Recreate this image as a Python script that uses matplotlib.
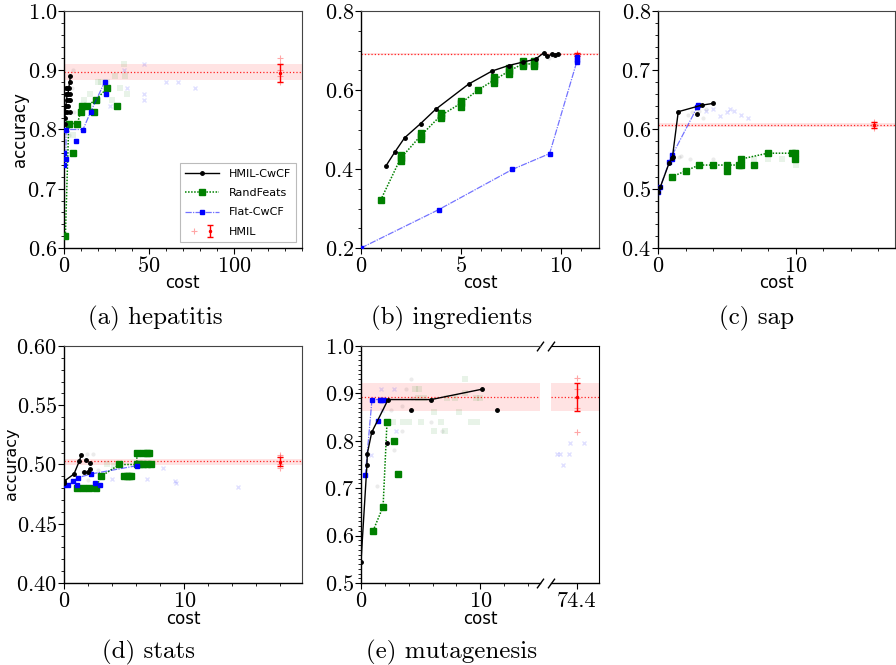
import matplotlib
matplotlib.use("Agg")
import matplotlib.pyplot as plt
from matplotlib.ticker import MultipleLocator
from matplotlib.legend_handler import HandlerTuple

plt.rcParams['font.family'] = 'cmr10'
plt.rcParams['axes.formatter.use_mathtext'] = True
plt.rcParams['mathtext.fontset'] = 'cm'

# ---------------- data ----------------
# (a) hepatitis
hep_cwcf_x = [0.3, 0.5, 0.8, 1.1, 1.5, 1.9, 2.3, 2.8, 3.3, 3.8]
hep_cwcf_y = [0.81, 0.82, 0.83, 0.84, 0.85, 0.86, 0.86, 0.87, 0.88, 0.89]
hep_cwcf_px = [1.5, 3.8, 2.5, 3.5, 1.0, 2.0, 3.5, 0.5, 2.8, 1.2]
hep_cwcf_py = [0.83, 0.83, 0.84, 0.85, 0.86, 0.87, 0.86, 0.84, 0.85, 0.87]
hep_rand_x = [0.8, 2.8, 7.9, 9.8, 10.8, 13.7, 18.6, 25.5]
hep_rand_y = [0.62, 0.81, 0.81, 0.83, 0.84, 0.84, 0.85, 0.87]
hep_rand_px = [5.5, 17.5, 31.4]
hep_rand_py = [0.76, 0.83, 0.84]
hep_flat_x = [0.0, 1.2, 1.2, 11.2, 15.7, 23.9]
hep_flat_y = [0.76, 0.75, 0.80, 0.80, 0.83, 0.88]
hep_flat_px = [0.0, 7.1, 24.7]
hep_flat_py = [0.74, 0.78, 0.86]
hep_bg_cwcf_x = [5.0, 4.5, 6.0, 3.0]
hep_bg_cwcf_y = [0.90, 0.87, 0.83, 0.79]
hep_bg_rand_x = [5.0, 15.0, 20.0, 22.0, 25.0, 30.0, 35.0, 36.0, 33.0, 37.0, 28.0, 20.0, 12.0]
hep_bg_rand_y = [0.79, 0.86, 0.88, 0.88, 0.88, 0.89, 0.91, 0.89, 0.87, 0.86, 0.85, 0.85, 0.85]
hep_bg_flat_x = [47.0, 60.0, 67.0, 77.0, 47.0, 47.0, 37.0, 27.0, 35.0]
hep_bg_flat_y = [0.91, 0.88, 0.88, 0.87, 0.86, 0.85, 0.87, 0.84, 0.90]
hep_hmil = dict(x=127.0, mean=0.897, band=(0.884, 0.911), err=(0.880, 0.911),
                pts=[0.92, 0.91, 0.90, 0.89, 0.88])

# (b) ingredients
ing_cwcf_x = [1.25, 1.68, 2.18, 2.98, 3.73, 5.38, 6.55, 7.38, 8.12, 8.73, 9.13, 9.32, 9.57, 9.70, 9.83]
ing_cwcf_y = [0.408, 0.442, 0.479, 0.515, 0.551, 0.615, 0.648, 0.662, 0.671, 0.678, 0.694, 0.685, 0.692, 0.688, 0.692]
ing_cwcf_px = []
ing_cwcf_py = []
ing_rand_x = [0.98, 1.98, 2.98, 3.98, 4.98, 5.85, 6.65, 7.40, 8.08, 8.65]
ing_rand_y = [0.321, 0.427, 0.484, 0.535, 0.566, 0.600, 0.625, 0.648, 0.666, 0.666]
ing_rand_px = [1.98, 1.98, 2.98, 2.98, 3.98, 3.98, 4.98, 4.98, 6.65, 6.65, 7.40, 7.40, 8.08, 8.08, 8.65, 8.65]
ing_rand_py = [0.420, 0.436, 0.477, 0.492, 0.528, 0.543, 0.558, 0.573, 0.617, 0.632, 0.640, 0.655, 0.660, 0.673, 0.660, 0.673]
ing_flat_x = [0.0, 3.88, 7.57, 9.43, 10.78]
ing_flat_y = [0.20, 0.297, 0.399, 0.439, 0.670]
ing_flat_px = [10.78, 10.78]
ing_flat_py = [0.677, 0.684]
ing_bg_cwcf_x = [9.4, 9.6, 9.5]
ing_bg_cwcf_y = [0.680, 0.685, 0.690]
ing_bg_rand_x = []
ing_bg_rand_y = []
ing_bg_flat_x = []
ing_bg_flat_y = []
ing_hmil = dict(x=10.78, mean=0.691, band=(0.689, 0.693), err=(0.687, 0.694),
                pts=[0.686, 0.689, 0.692, 0.694])

# (c) sap
sap_cwcf_x = [0.0, 0.17, 0.80, 1.04, 1.47, 3.16, 3.99]
sap_cwcf_y = [0.494, 0.503, 0.543, 0.552, 0.630, 0.641, 0.644]
sap_cwcf_px = [2.8, 1.1]
sap_cwcf_py = [0.627, 0.553]
sap_rand_x = [0.99, 2.0, 2.97, 3.99, 5.0, 6.0, 6.0, 7.97, 9.71, 9.97]
sap_rand_y = [0.52, 0.53, 0.54, 0.54, 0.54, 0.54, 0.55, 0.56, 0.56, 0.56]
sap_rand_px = [5.0, 5.85, 6.96, 9.97]
sap_rand_py = [0.53, 0.54, 0.54, 0.55]
sap_flat_x = [0.0, 0.17, 0.80, 1.04, 2.92]
sap_flat_y = [0.494, 0.503, 0.545, 0.557, 0.641]
sap_flat_px = [1.0, 2.85]
sap_flat_py = [0.550, 0.638]
sap_bg_cwcf_x = [2.2, 2.5, 2.8, 3.3, 3.5, 3.0, 1.5, 2.3, 4.0, 1.7]
sap_bg_cwcf_y = [0.625, 0.630, 0.635, 0.620, 0.635, 0.632, 0.553, 0.550, 0.550, 0.555]
sap_bg_rand_x = [7.0, 8.0, 9.0, 10.0]
sap_bg_rand_y = [0.55, 0.55, 0.55, 0.54]
sap_bg_flat_x = [3.5, 4.0, 4.5, 5.0, 5.2, 5.5, 6.0, 6.5]
sap_bg_flat_y = [0.632, 0.635, 0.622, 0.630, 0.635, 0.632, 0.625, 0.620]
sap_hmil = dict(x=15.65, mean=0.608, band=(0.605, 0.611), err=(0.603, 0.612),
                pts=[0.603, 0.606, 0.609, 0.612])

# (d) stats
sta_cwcf_x = [0.03, 0.83, 1.28, 1.44]
sta_cwcf_y = [0.486, 0.492, 0.503, 0.508]
sta_cwcf_px = [0.0, 1.86, 2.17, 1.67, 2.03, 2.17]
sta_cwcf_py = [0.484, 0.504, 0.501, 0.494, 0.494, 0.496]
sta_rand_x = [1.11, 1.61, 2.11, 2.64, 3.08, 4.61, 6.06, 6.06, 6.89]
sta_rand_y = [0.480, 0.480, 0.480, 0.480, 0.490, 0.500, 0.500, 0.510, 0.510]
sta_rand_px = [5.0, 5.2, 5.4, 5.6, 6.3, 6.6, 6.9, 7.2, 6.6, 7.1]
sta_rand_py = [0.49, 0.49, 0.49, 0.49, 0.50, 0.50, 0.50, 0.50, 0.51, 0.51]
sta_flat_x = [0.0, 0.33, 0.75, 1.2, 2.25, 6.06]
sta_flat_y = [0.483, 0.483, 0.486, 0.489, 0.492, 0.499]
sta_flat_px = [1.1, 2.6, 2.97]
sta_flat_py = [0.483, 0.484, 0.483]
sta_bg_cwcf_x = [1.9, 2.4, 2.0, 1.6, 2.8]
sta_bg_cwcf_y = [0.509, 0.509, 0.487, 0.494, 0.495]
sta_bg_rand_x = [3.6, 4.2]
sta_bg_rand_y = [0.500, 0.499]
sta_bg_flat_x = [8.2, 9.2, 9.3, 14.5, 4.0, 5.0, 6.9]
sta_bg_flat_y = [0.497, 0.486, 0.484, 0.481, 0.488, 0.490, 0.488]
sta_hmil = dict(x=18.0, mean=0.503, band=(0.4995, 0.505), err=(0.499, 0.506),
                pts=[0.497, 0.500, 0.503, 0.506, 0.508])

# (e) mutagenesis (left part of broken axis)
mut_cwcf_x = [0.0, 0.5, 0.53, 0.9, 2.27, 5.88, 10.17]
mut_cwcf_y = [0.545, 0.750, 0.773, 0.818, 0.887, 0.887, 0.909]
mut_cwcf_px = [4.15, 11.37, 2.18]
mut_cwcf_py = [0.864, 0.864, 0.796]
mut_rand_x = [1.01, 1.85, 2.18]
mut_rand_y = [0.610, 0.661, 0.840]
mut_rand_px = [2.77, 3.11]
mut_rand_py = [0.800, 0.730]
mut_flat_x = [0.36, 0.92, 1.57, 1.96]
mut_flat_y = [0.727, 0.887, 0.887, 0.887]
mut_flat_px = [1.45, 1.65]
mut_flat_py = [0.841, 0.887]
mut_bg_cwcf_x = [4.2, 3.8, 4.3, 5.9, 6.8, 3.4, 2.8, 1.3, 2.5, 3.4, 4.3]
mut_bg_cwcf_y = [0.93, 0.91, 0.89, 0.84, 0.82, 0.82, 0.78, 0.705, 0.864, 0.874, 0.864]
mut_bg_rand_x = [3.5, 4.0, 5.0, 6.7, 9.2, 9.7, 2.7, 6.1, 8.2, 6.1, 7.0, 4.8, 7.2, 8.7, 9.6, 10.0, 8.7, 4.5, 4.9, 7.9, 5.3]
mut_bg_rand_y = [0.84, 0.84, 0.84, 0.84, 0.84, 0.84, 0.84, 0.86, 0.86, 0.82, 0.82, 0.89, 0.89, 0.90, 0.89, 0.89, 0.93, 0.91, 0.91, 0.89, 0.89]
mut_bg_flat_x = [1.7, 2.8, 2.9, 1.8, 0.8]
mut_bg_flat_y = [0.91, 0.91, 0.82, 0.865, 0.77]
# (e) right part of broken axis (HMIL)
mut_far_flat_x = [72.7, 73.0, 73.7, 73.2, 73.8, 75.0]
mut_far_flat_y = [0.773, 0.773, 0.773, 0.750, 0.796, 0.796]
mut_hmil = dict(x=74.4, mean=0.893, band=(0.862, 0.922), err=(0.862, 0.922),
                pts=[0.932, 0.910, 0.890, 0.870, 0.818])

# ---------------- styles ----------------
BLUE_LINE = (0.0, 0.0, 1.0, 0.55)
TICK_SIZE = 16


def style_axis(ax, xmajor, xminor, ymajor, yminor):
    ax.xaxis.set_major_locator(MultipleLocator(xmajor))
    ax.xaxis.set_minor_locator(MultipleLocator(xminor))
    ax.yaxis.set_major_locator(MultipleLocator(ymajor))
    ax.yaxis.set_minor_locator(MultipleLocator(yminor))
    ax.tick_params(which='major', direction='out', length=4, width=0.8, labelsize=TICK_SIZE, pad=2)
    ax.tick_params(axis='y', which='major', pad=1)
    ax.tick_params(which='minor', direction='out', length=2, width=0.6)
    ax.tick_params(top=False, right=False, which='both')
    for side in ['top', 'right']:
        ax.spines[side].set_color('#444444')
    for side in ['left', 'bottom']:
        ax.spines[side].set_color('black')
        ax.spines[side].set_linewidth(1.0)


def draw_hmil_band(ax, h):
    ax.axhspan(h['band'][0], h['band'][1], color='red', alpha=0.11, lw=0, zorder=0)
    ax.axhline(h['mean'], color='red', ls=':', lw=0.9, alpha=0.85, zorder=1)


def draw_hmil_point(ax, h):
    pts = ax.plot([h['x']] * len(h['pts']), h['pts'], '+', color='red', alpha=0.35,
                  ms=4, mew=0.8, zorder=3)[0]
    m = (h['err'][0] + h['err'][1]) / 2
    eb = ax.errorbar([h['x']], [m], yerr=[[m - h['err'][0]], [h['err'][1] - m]],
                     fmt='.', color='red', ms=3, capsize=2, elinewidth=1, capthick=1,
                     zorder=4)
    return pts, eb


def draw_background(ax, cx, cy, rx, ry, fx, fy):
    ax.plot(cx, cy, 'o', color='black', alpha=0.08, ms=3, mew=0, zorder=1)
    ax.plot(rx, ry, 's', color='green', alpha=0.09, ms=5, mew=0, zorder=1)
    ax.plot(fx, fy, 'x', color='blue', alpha=0.12, ms=3, mew=1, zorder=1)


def draw_methods(ax, cx, cy, cpx, cpy, rx, ry, rpx, rpy, fx, fy, fpx, fpy):
    h1 = ax.plot(cx, cy, '.-', color='black', lw=1, ms=5, zorder=6)[0]
    ax.plot(cpx, cpy, '.', color='black', ms=5, zorder=6)
    h2 = ax.plot(rx, ry, 's', ls=(0, (1, 1)), color='green', lw=1.1, ms=4.5, zorder=5)[0]
    ax.plot(rpx, rpy, 's', color='green', ms=4.5, zorder=5)
    h3 = ax.plot(fx, fy, 's', ls=(0, (5, 1, 1, 1)), color=BLUE_LINE, lw=0.9, ms=2.8,
                 mfc='blue', mec='blue', zorder=5)[0]
    ax.plot(fpx, fpy, 's', color='blue', ms=2.8, zorder=5)
    return h1, h2, h3


fig = plt.figure(figsize=(8.96, 6.65), dpi=100)


def add_ax(left, top, right, bottom):
    return fig.add_axes([left / 896, 1 - bottom / 665, (right - left) / 896, (bottom - top) / 665])


def fig_text(x, y, s, **kw):
    return fig.text(x / 896, 1 - y / 665, s, ha='center', va='center', **kw)


label_font = dict(family='DejaVu Sans', fontsize=12)

# (a) hepatitis
ax = add_ax(64, 11, 302, 248)
draw_hmil_band(ax, hep_hmil)
draw_background(ax, hep_bg_cwcf_x, hep_bg_cwcf_y, hep_bg_rand_x, hep_bg_rand_y, hep_bg_flat_x, hep_bg_flat_y)
h1, h2, h3 = draw_methods(ax, hep_cwcf_x, hep_cwcf_y, hep_cwcf_px, hep_cwcf_py,
                          hep_rand_x, hep_rand_y, hep_rand_px, hep_rand_py,
                          hep_flat_x, hep_flat_y, hep_flat_px, hep_flat_py)
hp, he = draw_hmil_point(ax, hep_hmil)
ax.set_xlim(0, 140)
ax.set_ylim(0.6, 1.0)
style_axis(ax, 50, 10, 0.1, 0.02)
leg = ax.legend([h1, h2, h3, (hp, he)], ['HMIL-CwCF', 'RandFeats', 'Flat-CwCF', 'HMIL'],
                handler_map={tuple: HandlerTuple(ndivide=None, pad=0)},
                loc='lower right', prop={'family': 'DejaVu Sans', 'size': 8},
                fancybox=False, edgecolor='#bbbbbb', framealpha=1,
                borderaxespad=0.5, handlelength=3.0, labelspacing=0.85,
                handletextpad=0.9, borderpad=0.5)
leg.get_frame().set_linewidth(0.8)

# (b) ingredients
ax = add_ax(361, 11, 599, 248)
draw_hmil_band(ax, ing_hmil)
draw_background(ax, ing_bg_cwcf_x, ing_bg_cwcf_y, ing_bg_rand_x, ing_bg_rand_y, ing_bg_flat_x, ing_bg_flat_y)
draw_methods(ax, ing_cwcf_x, ing_cwcf_y, ing_cwcf_px, ing_cwcf_py,
             ing_rand_x, ing_rand_y, ing_rand_px, ing_rand_py,
             ing_flat_x, ing_flat_y, ing_flat_px, ing_flat_py)
draw_hmil_point(ax, ing_hmil)
ax.set_xlim(0, 11.9)
ax.set_ylim(0.2, 0.8)
style_axis(ax, 5, 1, 0.2, 0.05)

# (c) sap
ax = add_ax(658, 11, 895, 248)
draw_hmil_band(ax, sap_hmil)
draw_background(ax, sap_bg_cwcf_x, sap_bg_cwcf_y, sap_bg_rand_x, sap_bg_rand_y, sap_bg_flat_x, sap_bg_flat_y)
draw_methods(ax, sap_cwcf_x, sap_cwcf_y, sap_cwcf_px, sap_cwcf_py,
             sap_rand_x, sap_rand_y, sap_rand_px, sap_rand_py,
             sap_flat_x, sap_flat_y, sap_flat_px, sap_flat_py)
draw_hmil_point(ax, sap_hmil)
ax.set_xlim(0, 17.2)
ax.set_ylim(0.4, 0.8)
style_axis(ax, 10, 2, 0.1, 0.02)

# (d) stats
ax = add_ax(64, 346, 302, 583)
draw_hmil_band(ax, sta_hmil)
draw_background(ax, sta_bg_cwcf_x, sta_bg_cwcf_y, sta_bg_rand_x, sta_bg_rand_y, sta_bg_flat_x, sta_bg_flat_y)
draw_methods(ax, sta_cwcf_x, sta_cwcf_y, sta_cwcf_px, sta_cwcf_py,
             sta_rand_x, sta_rand_y, sta_rand_px, sta_rand_py,
             sta_flat_x, sta_flat_y, sta_flat_px, sta_flat_py)
draw_hmil_point(ax, sta_hmil)
ax.set_xlim(0, 19.8)
ax.set_ylim(0.4, 0.6)
style_axis(ax, 10, 2, 0.05, 0.01)

# (e) mutagenesis, broken x axis
ax = add_ax(361, 346, 540, 583)
draw_hmil_band(ax, mut_hmil)
draw_background(ax, mut_bg_cwcf_x, mut_bg_cwcf_y, mut_bg_rand_x, mut_bg_rand_y, mut_bg_flat_x, mut_bg_flat_y)
draw_methods(ax, mut_cwcf_x, mut_cwcf_y, mut_cwcf_px, mut_cwcf_py,
             mut_rand_x, mut_rand_y, mut_rand_px, mut_rand_py,
             mut_flat_x, mut_flat_y, mut_flat_px, mut_flat_py)
ax.set_xlim(0, 15.0)
ax.set_ylim(0.5, 1.0)
style_axis(ax, 10, 2, 0.1, 0.01)
ax.spines['right'].set_visible(False)

ax2 = add_ax(551, 346, 599, 583)
draw_hmil_band(ax2, mut_hmil)
ax2.plot(mut_far_flat_x, mut_far_flat_y, 'x', color='blue', alpha=0.12, ms=3, mew=1, zorder=1)
draw_hmil_point(ax2, mut_hmil)
ax2.set_xlim(72.23, 76.23)
ax2.set_ylim(0.5, 1.0)
style_axis(ax2, 10, 2, 0.1, 0.01)
ax2.set_xticks([74.4])
ax2.set_xticklabels(['74.4'])
ax2.xaxis.set_minor_locator(MultipleLocator(100))
ax2.set_yticks([])
ax2.yaxis.set_minor_locator(MultipleLocator(10))
ax2.spines['left'].set_visible(False)
ax2.spines['right'].set_color('black')
ax2.spines['top'].set_color('black')

brk = dict(marker=[(-1, -1.4), (1, 1.4)], markersize=7, linestyle='none',
           color='k', mec='k', mew=1, clip_on=False)
ax.plot([1, 1], [0, 1], transform=ax.transAxes, **brk)
ax2.plot([0, 0], [0, 1], transform=ax2.transAxes, **brk)

# axis labels
for cx, cy in [(182, 283), (480, 283), (776, 283), (183, 619), (480, 619)]:
    fig_text(cx, cy, 'cost', **label_font)
fig_text(20, 130, 'accuracy', rotation=90, **label_font)
fig_text(11, 464, 'accuracy', rotation=90, family='DejaVu Sans', fontsize=11.5)

# captions
cap_size = 18
fig_text(155, 318, '(a) hepatitis', fontsize=cap_size)
fig_text(452, 318, '(b) ingredients', fontsize=cap_size)
fig_text(756, 318, '(c) sap', fontsize=cap_size)
fig_text(148, 652, '(d) stats', fontsize=cap_size)
fig_text(452, 652, '(e) mutagenesis', fontsize=cap_size)

fig.savefig('out.png', dpi=100)
